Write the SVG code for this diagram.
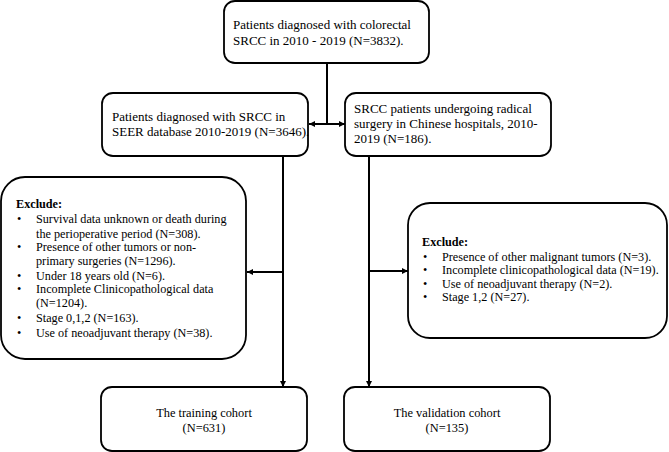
<svg xmlns="http://www.w3.org/2000/svg" width="669" height="452" viewBox="0 0 669 452">
<defs>
<marker id="ah" viewBox="0 0 10 10" refX="10" refY="5" markerWidth="6" markerHeight="6" markerUnits="userSpaceOnUse" orient="auto-start-reverse">
<path d="M0,0 L10,5 L0,10 z" fill="#000"/>
</marker>
<style>
.box{fill:#fff;stroke:#000;stroke-width:1.8}
.t{font-family:"Liberation Serif","Times New Roman",serif;font-size:13px;fill:#000}
.s{font-size:12.2px}
.m{font-size:12.4px}
.b{font-weight:bold}
.c{text-anchor:middle}
.ln{fill:none;stroke:#000;stroke-width:2}
</style>
</defs>
<rect width="669" height="452" fill="#fff"/>
<g id="connectors">
<line class="ln" x1="327" y1="63" x2="327" y2="124"/>
<line class="ln" x1="327" y1="124" x2="309" y2="124" marker-end="url(#ah)"/>
<line class="ln" x1="327" y1="124" x2="345" y2="124" marker-end="url(#ah)"/>
<line class="ln" x1="283" y1="156" x2="283" y2="387" marker-end="url(#ah)"/>
<line class="ln" x1="283" y1="272" x2="247" y2="272" marker-end="url(#ah)"/>
<line class="ln" x1="369" y1="156" x2="369" y2="387" marker-end="url(#ah)"/>
<line class="ln" x1="369" y1="271" x2="408" y2="271" marker-end="url(#ah)"/>
</g>
<g id="top">
<rect class="box" x="224" y="1" width="205" height="62" rx="11"/>
<text class="t" x="233" y="29">Patients diagnosed with colorectal</text>
<text class="t" x="233" y="45">SRCC in 2010 - 2019 (N=3832).</text>
</g>
<g id="seer">
<rect class="box" x="102" y="93" width="206" height="63" rx="11"/>
<text class="t" x="112" y="121">Patients diagnosed with SRCC in</text>
<text class="t" x="112" y="136">SEER database 2010-2019 (N=3646).</text>
</g>
<g id="chinese">
<rect class="box" x="345" y="93" width="206" height="63" rx="11"/>
<text class="t" x="354" y="113">SRCC patients undergoing radical</text>
<text class="t" x="354" y="128">surgery in Chinese hospitals, 2010-</text>
<text class="t" x="354" y="143">2019 (N=186).</text>
</g>
<g id="exclude-left">
<rect class="box" x="1" y="177" width="245" height="182" rx="24"/>
<text class="t s b" x="16" y="208">Exclude:</text>
<g class="t s">
<text x="17" y="223">•</text><text x="36" y="223">Survival data unknown or death during</text>
<text x="36" y="238">the perioperative period (N=308).</text>
<text x="17" y="251">•</text><text x="36" y="251">Presence of other tumors or non-</text>
<text x="36" y="265">primary surgeries (N=1296).</text>
<text x="17" y="280">•</text><text x="36" y="280">Under 18 years old (N=6).</text>
<text x="17" y="293">•</text><text x="36" y="293">Incomplete Clinicopathological data</text>
<text x="36" y="307">(N=1204).</text>
<text x="17" y="322">•</text><text x="36" y="322">Stage 0,1,2 (N=163).</text>
<text x="17" y="337">•</text><text x="36" y="337">Use of neoadjuvant therapy (N=38).</text>
</g>
</g>
<g id="exclude-right">
<rect class="box" x="408" y="203" width="259" height="135" rx="22"/>
<text class="t s b" x="422" y="246">Exclude:</text>
<g class="t s">
<text x="423" y="261">•</text><text x="442" y="261">Presence of other malignant tumors (N=3).</text>
<text x="423" y="274">•</text><text x="442" y="274">Incomplete clinicopathological data (N=19).</text>
<text x="423" y="288">•</text><text x="442" y="288">Use of neoadjuvant therapy (N=2).</text>
<text x="423" y="301">•</text><text x="442" y="301">Stage 1,2 (N=27).</text>
</g>
</g>
<g id="training">
<rect class="box" x="101" y="387" width="206" height="64" rx="11"/>
<text class="t m c" x="204" y="417">The training cohort</text>
<text class="t m c" x="204" y="432">(N=631)</text>
</g>
<g id="validation">
<rect class="box" x="344" y="387" width="206" height="64" rx="11"/>
<text class="t m c" x="447" y="417">The validation cohort</text>
<text class="t m c" x="447" y="432">(N=135)</text>
</g>
</svg>
